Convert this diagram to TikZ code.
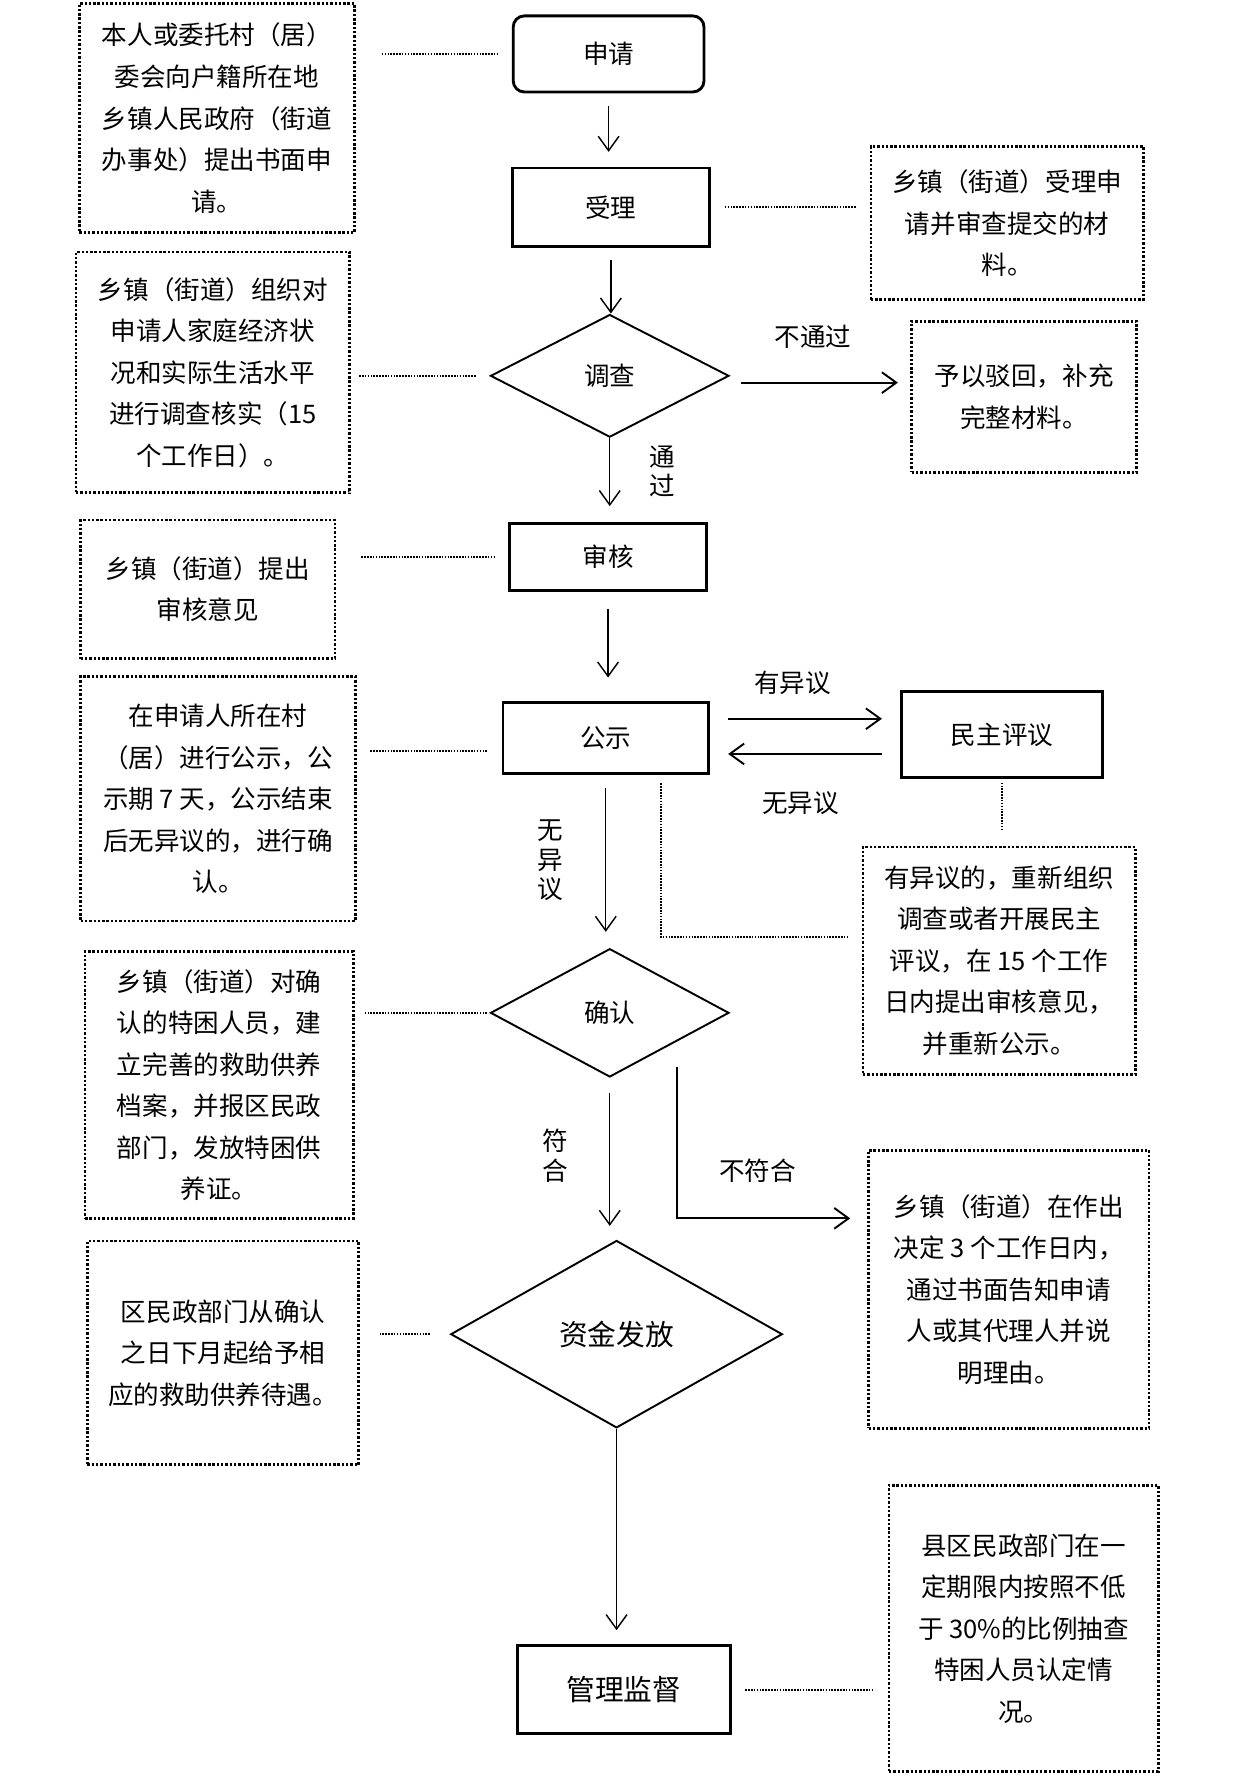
\documentclass[tikz,border=0pt]{standalone}
\usepackage{fontspec}
\setmainfont{Noto Sans CJK SC}
\usetikzlibrary{shapes.geometric,arrows.meta}

\begin{document}
\begin{tikzpicture}[x=0.025cm,y=-0.025cm,
	every node/.style={font=\fontsize{16pt}{26pt}\selectfont},
	stage/.style={draw,line width=1.8pt,inner sep=0pt},
	choice/.style={draw,diamond,line width=1.2pt,inner sep=0pt},
	note/.style={draw,line width=1.7pt,dash pattern=on 1.5pt off 1.2pt,align=center,inner sep=0pt},
	flow/.style={line width=0.9pt,-{Straight Barb[length=9pt,width=13pt]}},
	link/.style={line width=1.2pt,dash pattern=on 1pt off 0.8pt,shorten <=0.3cm,shorten >=0.3cm},
	upright/.style={align=center,font=\fontsize{16pt}{18.5pt}\selectfont}]
	\path[use as bounding box,fill=white] (0,0) rectangle (1100,1565);

	% main column
	\node[stage,rounded corners=7pt,minimum width=4.2cm,minimum height=1.675cm] (apply) at (536,47.5) {申请};
	\node[stage,minimum width=4.35cm,minimum height=1.725cm] (accept) at (538,182.5) {受理};
	\node[choice,minimum width=5.25cm,minimum height=2.7cm] (survey) at (537,331) {调查};
	\node[stage,minimum width=4.325cm,minimum height=1.475cm] (review) at (535.5,490.5) {审核};
	\node[stage,minimum width=4.525cm,minimum height=1.55cm] (publicity) at (533.5,650) {公示};
	\node[stage,minimum width=4.425cm,minimum height=1.9cm] (debate) at (882.5,647) {民主评议};
	\node[choice,minimum width=5.25cm,minimum height=2.825cm] (confirm) at (537,892) {确认};
	\node[choice,minimum width=7.3cm,minimum height=4.125cm,font=\fontsize{18pt}{26pt}\selectfont] (fund) at (543,1175) {资金发放};
	\node[stage,minimum width=4.675cm,minimum height=1.95cm,font=\fontsize{18pt}{26pt}\selectfont] (supervise) at (549.5,1488) {管理监督};

	% notes
	\node[note,minimum width=6.05cm,minimum height=5.05cm] (applynote) at (191,104) {本人或委托村（居）\\委会向户籍所在地\\乡镇人民政府（街道\\办事处）提出书面申\\请。};
	\node[note,minimum width=6.025cm,minimum height=5.3cm] (surveynote) at (187.5,328) {乡镇（街道）组织对\\申请人家庭经济状\\况和实际生活水平\\进行调查核实（15\\个工作日）。};
	\node[note,minimum width=5.6cm,minimum height=3.05cm] (reviewnote) at (183,519) {乡镇（街道）提出\\审核意见};
	\node[note,minimum width=6.05cm,minimum height=5.375cm] (pubnote) at (192,703.5) {在申请人所在村\\（居）进行公示，公\\示期 7 天，公示结束\\后无异议的，进行确\\认。};
	\node[note,minimum width=5.9cm,minimum height=5.875cm] (confirmnote) at (193,955.5) {乡镇（街道）对确\\认的特困人员，建\\立完善的救助供养\\档案，并报区民政\\部门，发放特困供\\养证。};
	\node[note,minimum width=5.975cm,minimum height=4.925cm] (fundnote) at (196.5,1191.5) {区民政部门从确认\\之日下月起给予相\\应的救助供养待遇。};
	\node[note,minimum width=6cm,minimum height=3.375cm] (acceptnote) at (887,196.5) {乡镇（街道）受理申\\请并审查提交的材\\料。};
	\node[note,minimum width=4.95cm,minimum height=3.325cm] (reject) at (902,349.5) {予以驳回，补充\\完整材料。};
	\node[note,minimum width=6cm,minimum height=5cm] (objection) at (880,846) {有异议的，重新组织\\调查或者开展民主\\评议，在 15 个工作\\日内提出审核意见，\\并重新公示。};
	\node[note,minimum width=6.175cm,minimum height=6.125cm] (notify) at (888.5,1135.5) {乡镇（街道）在作出\\决定 3 个工作日内，\\通过书面告知申请\\人或其代理人并说\\明理由。};
	\node[note,minimum width=5.925cm,minimum height=6.3cm] (checknote) at (901.5,1434) {县区民政部门在一\\定期限内按照不低\\于 30\%的比例抽查\\特困人员认定情\\况。};

	% labels
	\node (failtag) at (716,297) {不通过};
	\node[upright] (passtag) at (583,415) {通\\过};
	\node (objtag) at (698,601) {有异议};
	\node (noobjtag) at (705,707) {无异议};
	\node[upright] (cleartag) at (485,758) {无\\异\\议};
	\node[upright] (fittag) at (489,1018) {符\\合};
	\node (unfittag) at (667,1031) {不符合};

	% arrows
	\draw[flow,shorten <=0.275cm,shorten >=0.325cm] (apply) -- (apply |- accept.north);
	\draw[flow,shorten <=0.275cm] (accept) -- (accept |- survey.north);
	\draw[flow,shorten >=0.35cm] (survey) -- (survey |- review.north);
	\draw[flow,shorten <=0.375cm,shorten >=0.525cm] (review) -- (review |- publicity.north);
	\draw[flow,shorten <=0.3cm,shorten >=0.35cm] (publicity) -- (publicity |- confirm.north);
	\draw[flow,shorten <=0.325cm,shorten >=0.3cm] (confirm) -- (confirm |- fund.north);
	\draw[flow,shorten >=0.3cm] (fund) -- (fund |- supervise.north);
	\draw[flow,line width=1.2pt,shorten <=0.25cm,shorten >=0.275cm] ([yshift=-0.15cm]survey.east) -- ([yshift=-0.15cm]survey.east -| reject.west);
	\draw[flow,line width=1.2pt,shorten <=0.4cm,shorten >=0.4cm] ([yshift=0.425cm]publicity.east) -- ([yshift=0.425cm]publicity.east -| debate.west);
	\draw[flow,line width=1.2pt,shorten <=0.4cm,shorten >=0.4cm] ([yshift=-0.35cm]publicity.east -| debate.west) -- ([yshift=-0.35cm]publicity.east);
	\coordinate (nobranch) at (596,940);
	\draw[flow,line width=1.2pt,shorten >=0.375cm] (nobranch) |- ([yshift=1.5625cm]notify.west);

	% dotted links
	\draw[link,shorten <=0.575cm] (applynote.east |- apply) -- (apply);
	\draw[link] (accept) -- (accept -| acceptnote.west);
	\draw[link,shorten <=0.175cm] (surveynote.east |- survey) -- (survey);
	\draw[link,shorten <=0.55cm] (reviewnote.east |- review) -- (review);
	\draw[link] ([yshift=-0.275cm]pubnote.east |- publicity) -- ([yshift=-0.275cm]publicity.west);
	\draw[link,shorten <=0.225cm,shorten >=0.05cm] (confirmnote.east |- confirm) -- (confirm);
	\draw[link,shorten <=0.425cm,shorten >=0.425cm] (fundnote.east |- fund) -- (fund);
	\draw[link] (supervise) -- (supervise -| checknote.west);
	\draw[link,shorten <=0.075cm,shorten >=0.325cm] (debate) -- (debate |- objection.north);
	\coordinate (pubfoot) at (582,690);
	\draw[link,shorten <=0cm] (pubfoot) |- ([yshift=0.525cm]objection.west);
\end{tikzpicture}
\end{document}
